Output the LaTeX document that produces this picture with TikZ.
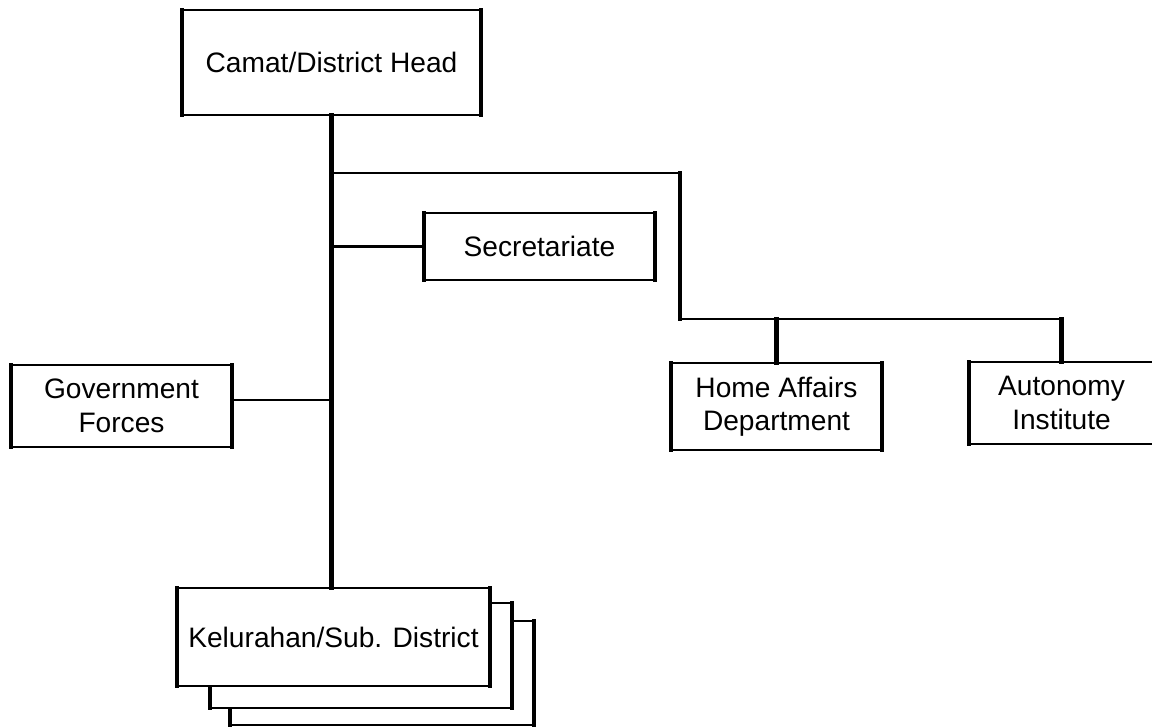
\documentclass[tikz,border=0pt]{standalone}
\usepackage{fontspec}
\setmainfont{Liberation Sans}
\begin{document}
\begin{tikzpicture}[x=0.01cm,y=-0.01cm,
  hline/.style={line width=0.6pt},
  vline/.style={line width=1.2pt, line cap=rect},
  orgbox/.style={draw, line width=0.6pt, fill=white, inner sep=0pt, outer sep=0pt,
    align=center, font=\fontsize{8}{9.5}\selectfont,
    % heavier vertical sides of each box
    append after command={(\tikzlastnode.north west) edge[vline] (\tikzlastnode.south west)
                          (\tikzlastnode.north east) edge[vline] (\tikzlastnode.south east)}}]
\useasboundingbox (0,0) rectangle (1152,727);

% stacked copies behind the sub-district box
\node[orgbox, minimum width=3.04cm, minimum height=1.04cm] (kel3) at (382,673) {};
\node[orgbox, minimum width=3.02cm, minimum height=1.05cm] (kel2) at (361,655.5) {};

% organisation units
\node[orgbox, minimum width=2.99cm, minimum height=1.05cm] (camat) at (331.5,62.5) {Camat/District Head};
\node[orgbox, minimum width=2.31cm, minimum height=0.67cm] (sec) at (539.5,246.5) {Secretariate};
\node[orgbox, minimum width=2.21cm, minimum height=0.82cm] (gov) at (121.5,406) {Government\\Forces};
\node[orgbox, minimum width=2.11cm, minimum height=0.87cm] (ha) at (776.5,406.5) {Home Affairs\\Department};
\node[orgbox, minimum width=1.85cm, minimum height=0.82cm] (aut) at (1061.5,403) {Autonomy\\Institute};
\node[orgbox, minimum width=3.13cm, minimum height=0.98cm] (kel) at (333.5,637) {Kelurahan/Sub. District};

% branch points
\coordinate (br) at (331.5,173);
\coordinate (bend) at (680,173);
\coordinate (bus) at (680,319);

% main trunk
\draw[vline] (camat.south) -- (camat.south |- kel.north);
\draw[hline] (sec.west) -- (sec.west -| camat.south);
\draw[hline] ([yshift=0.06cm]gov.east) -- ([yshift=0.06cm]gov.east -| camat.south);

% upper branch to the departments
\draw[hline] (br) -- (bend);
\draw[vline] (bend) -- (bus);
\draw[hline] (bus) -- (bus -| aut.north);
\draw[vline] (bus -| ha.north) -- (ha.north);
\draw[vline] (bus -| aut.north) -- (aut.north);
\end{tikzpicture}
\end{document}
